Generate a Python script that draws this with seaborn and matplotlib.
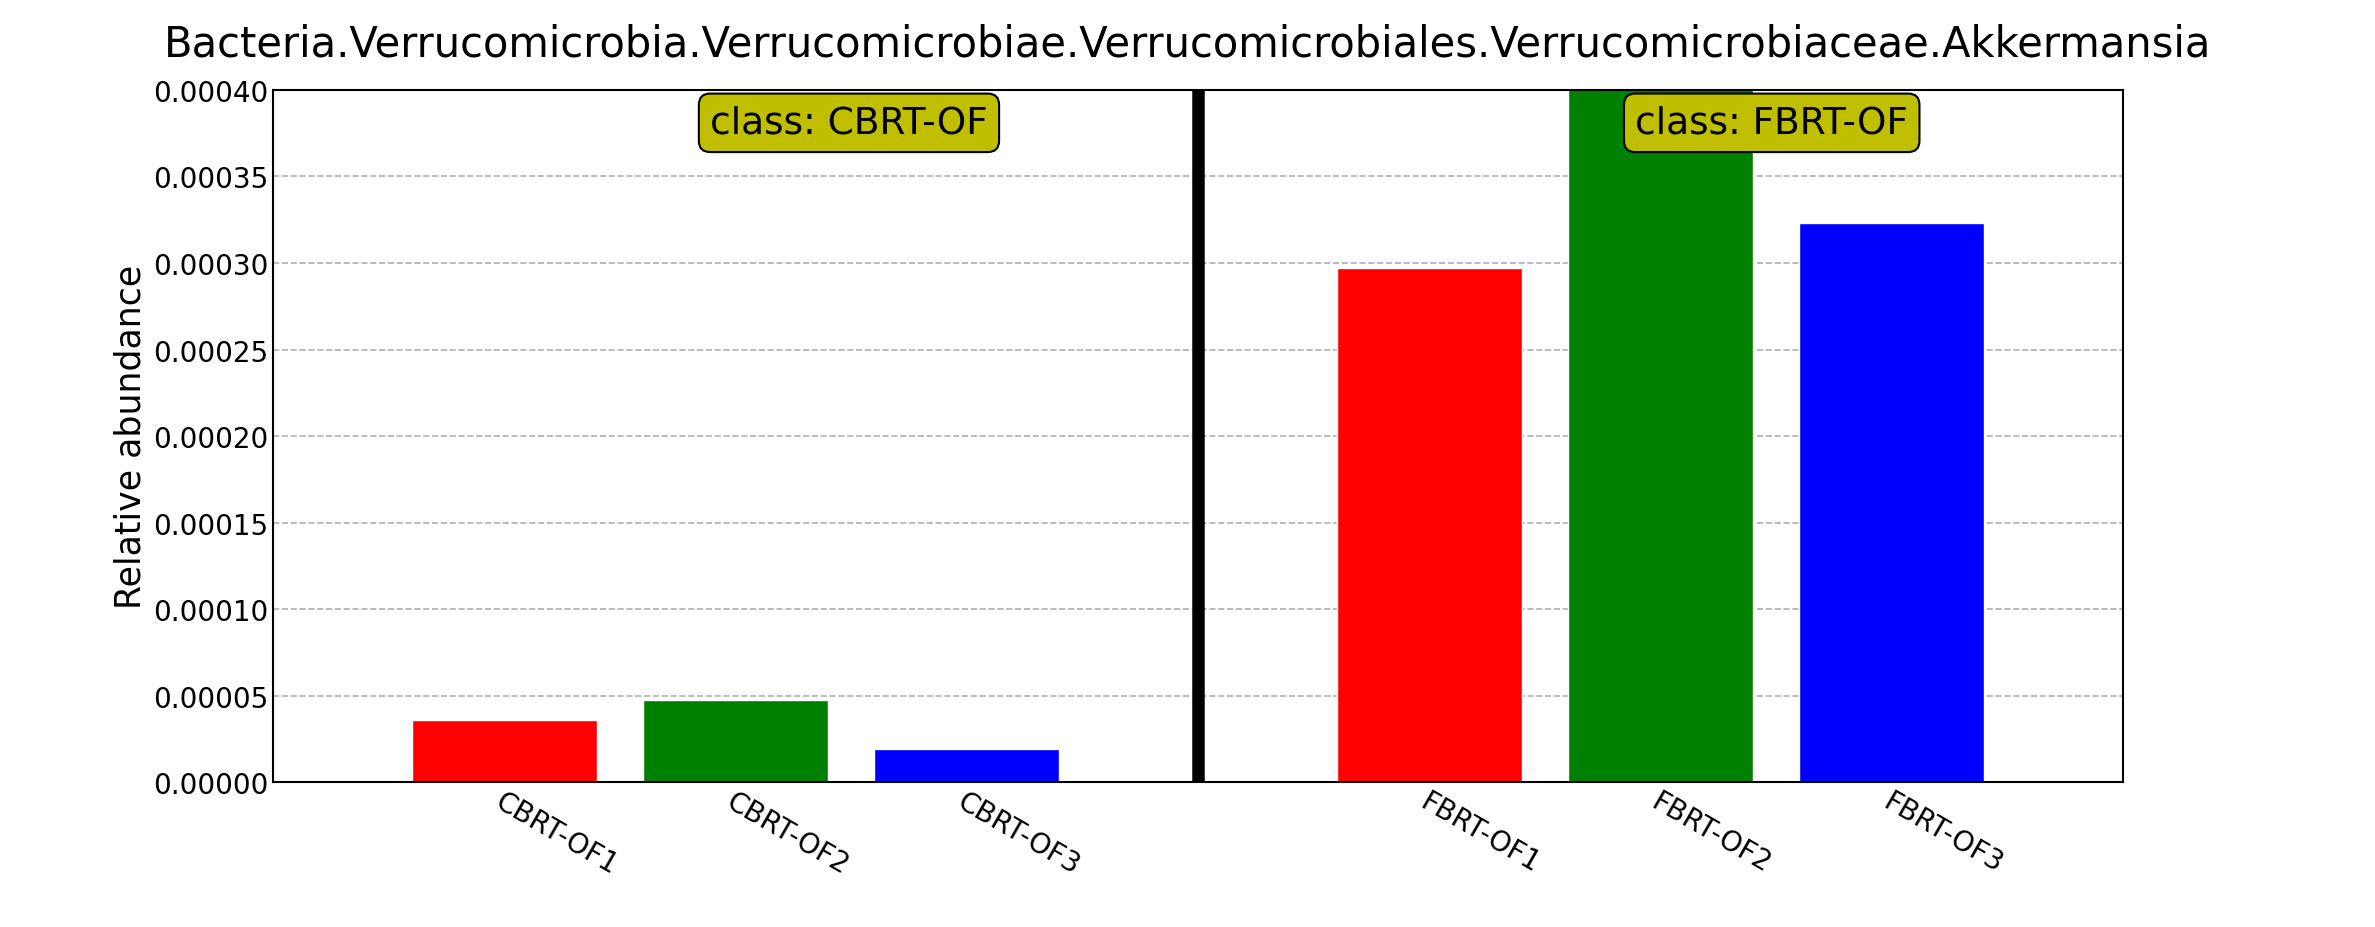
import matplotlib
matplotlib.use("Agg")
import matplotlib.pyplot as plt
import seaborn as sns
import pandas as pd

title = "Bacteria.Verrucomicrobia.Verrucomicrobiae.Verrucomicrobiales.Verrucomicrobiaceae.Akkermansia"
samples = ["", "CBRT-OF1", "CBRT-OF2", "CBRT-OF3", " ", "FBRT-OF1", "FBRT-OF2", "FBRT-OF3", "  "]
values = [0, 0.000036, 0.0000475, 0.0000193, 0, 0.000297, 0.00042, 0.000323, 0]
colors = ["white", "red", "green", "blue", "white", "red", "green", "blue", "white"]
classes = ["class: CBRT-OF", "class: FBRT-OF"]

sns.set_style("white")
plt.rcParams['font.family'] = ['DejaVu Sans']
plt.rcParams['text.color'] = 'black'
plt.rcParams['xtick.color'] = 'black'
plt.rcParams['ytick.color'] = 'black'
plt.rcParams['axes.labelcolor'] = 'black'
fig = plt.figure(figsize=(23.75, 9.28), dpi=100)
ax = fig.add_axes([0.115, 0.156, 0.779, 0.746])
df = pd.DataFrame({"s": samples, "v": values})
sns.barplot(data=df, x="s", y="v", order=samples, palette=colors, hue="s",
            hue_order=samples, legend=False, width=0.8, saturation=1, ax=ax)
ax.set_xlim(0, 8)
ax.set_ylim(0, 0.0004)
ax.axvline(4, color="black", lw=9)
ax.set_yticks([i * 0.00005 for i in range(9)])
ax.set_yticklabels([f"{i*0.00005:.5f}" for i in range(9)], fontsize=20)
ax.set_xticks([1, 2, 3, 5, 6, 7])
ax.set_xticklabels([samples[i] for i in [1, 2, 3, 5, 6, 7]], rotation=-30,
                   ha="left", rotation_mode="anchor", fontsize=20)
ax.yaxis.grid(True, linestyle="--", color="#b0b0b0", lw=1.2)
ax.set_axisbelow(True)
ax.set_xlabel("")
ax.set_ylabel("Relative abundance", fontsize=25)
for sp in ax.spines.values():
    sp.set_color("black"); sp.set_linewidth(1.5)
ax.tick_params(axis="both", direction="in", length=6, color="black")
for xc, t in zip([2.49, 6.48], classes):
    ax.text(xc, 0.000381, t, ha="center", va="center", fontsize=27,
            bbox=dict(boxstyle="round,pad=0.3", fc="#bfbf00", ec="black", lw=1.5))
fig.suptitle(title, fontsize=30, x=0.5, y=0.975)
fig.savefig("out.png", dpi=100)
